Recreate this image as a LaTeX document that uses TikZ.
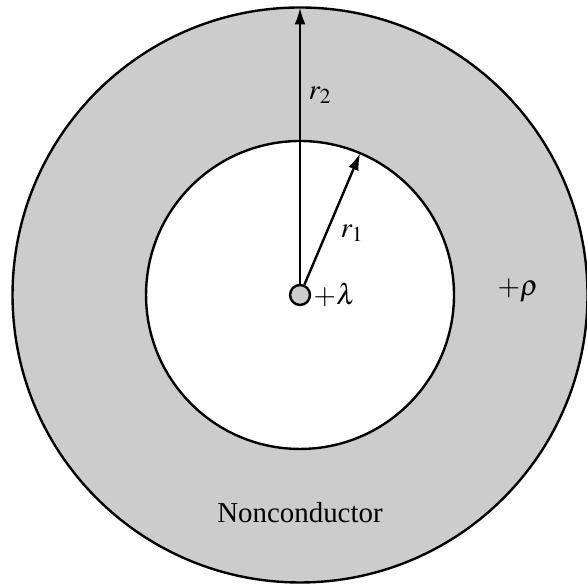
\documentclass[tikz,border=0pt]{standalone}
\usepackage{mathptmx}
\usepackage{fontspec}
\setmainfont{Liberation Serif}
\usetikzlibrary{arrows.meta}

\begin{document}
\begin{tikzpicture}[font=\fontsize{14.5}{17}\selectfont,
  ring/.style={line width=1.2pt},
  radius arrow/.style={line width=1.2pt, -{Latex[length=8.5pt, width=5.5pt]}}]
  \pgfmathsetmacro{\Ro}{5.071}
  \pgfmathsetmacro{\Ri}{2.716}
  \useasboundingbox (-5.292,-5.098) rectangle (5.062,5.203);
  % shell and hollow
  \filldraw[ring, fill=black!20] (0,0) circle (\Ro);
  \filldraw[ring, fill=white] (0,0) circle (\Ri);
  % line charge
  \node[circle, ring, draw, fill=black!20, minimum size=0.352cm, inner sep=0pt] (q) at (0,0) {};
  \coordinate (top) at (90:\Ro);
  \coordinate (rim) at (67:\Ri);
  \draw[radius arrow] (q) -- (top);
  \draw[radius arrow] (q) -- (rim);
  \node (rtwo) at (0.353,3.528) {$r_2$};
  \node (rone) at (0.917,1.094) {$r_1$};
  \node[right, inner sep=1pt] (lam) at (q.east) {$+\lambda$};
  \node (rho) at (3.845,0.088) {$+\rho$};
  \node (lbl) at (0,-3.845) {Nonconductor};
\end{tikzpicture}
\end{document}
